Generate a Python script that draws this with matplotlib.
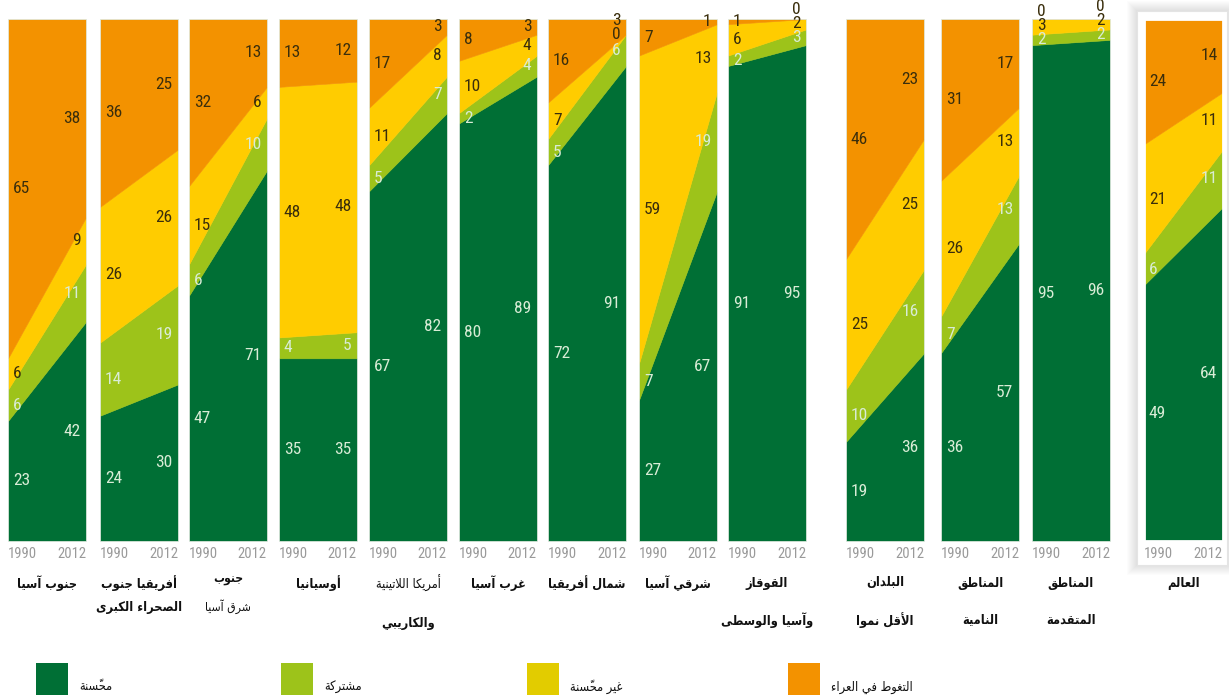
import matplotlib
matplotlib.use('Agg')
import matplotlib.pyplot as plt
from matplotlib import font_manager as fm
from matplotlib.patches import Rectangle

# ---------------- data ----------------
regions = [
    ('جنوب آسيا', None),
    ('أفريقيا جنوب', 'الصحراء الكبرى'),
    ('جنوب', 'شرق آسيا'),
    ('أوسيانيا', None),
    ('أمريكا اللاتينية', 'والكاريبي'),
    ('غرب آسيا', None),
    ('شمال أفريقيا', None),
    ('شرقي آسيا', None),
    ('القوقاز', 'وآسيا والوسطى'),
    ('البلدان', 'الأقل نموا'),
    ('المناطق', 'النامية'),
    ('المناطق', 'المتقدمة'),
    ('العالم', None),
]
years = [1990, 2012]
year_labels = ['1990', '2012']

improved_1990 = [23, 24, 47, 35, 67, 80, 72, 27, 91, 19, 36, 95, 49]
improved_2012 = [42, 30, 71, 35, 82, 89, 91, 67, 95, 36, 57, 96, 64]
shared_1990 = [6, 14, 6, 4, 5, 2, 5, 7, 2, 10, 7, 2, 6]
shared_2012 = [11, 19, 10, 5, 7, 4, 6, 19, 3, 16, 13, 2, 11]
unimproved_1990 = [6, 26, 15, 48, 11, 10, 7, 59, 6, 25, 26, 3, 21]
unimproved_2012 = [9, 26, 6, 48, 8, 4, 0, 13, 2, 25, 13, 2, 11]
open_1990 = [65, 36, 32, 13, 17, 8, 16, 7, 1, 46, 31, 0, 24]
open_2012 = [38, 25, 13, 12, 3, 3, 3, 1, 0, 23, 17, 0, 14]

legend_labels = ['محسّنة', 'مشتركة', 'غير محسّنة', 'التغوط في العراء']

# ---------------- styles ----------------
C_IMP = '#006f35'
C_SH = '#9dc31a'
C_UN = '#ffcc00'
C_OD = '#f39200'
LEG_COLORS = [C_IMP, C_SH, '#e2cc00', C_OD]
DARK_TXT = '#3a2e0c'
LIGHT_TXT = '#d9ecd6'

# ---------------- simple Arabic shaping ----------------
FORMS = {
    'ء': ('\uFE80', None, None, None),
    'آ': ('\uFE81', '\uFE82', None, None),
    'أ': ('\uFE83', '\uFE84', None, None),
    'إ': ('\uFE87', '\uFE88', None, None),
    'ا': ('\uFE8D', '\uFE8E', None, None),
    'ب': ('\uFE8F', '\uFE90', '\uFE91', '\uFE92'),
    'ة': ('\uFE93', '\uFE94', None, None),
    'ت': ('\uFE95', '\uFE96', '\uFE97', '\uFE98'),
    'ج': ('\uFE9D', '\uFE9E', '\uFE9F', '\uFEA0'),
    'ح': ('\uFEA1', '\uFEA2', '\uFEA3', '\uFEA4'),
    'د': ('\uFEA9', '\uFEAA', None, None),
    'ر': ('\uFEAD', '\uFEAE', None, None),
    'ز': ('\uFEAF', '\uFEB0', None, None),
    'س': ('\uFEB1', '\uFEB2', '\uFEB3', '\uFEB4'),
    'ش': ('\uFEB5', '\uFEB6', '\uFEB7', '\uFEB8'),
    'ص': ('\uFEB9', '\uFEBA', '\uFEBB', '\uFEBC'),
    'ط': ('\uFEC1', '\uFEC2', '\uFEC3', '\uFEC4'),
    'ع': ('\uFEC9', '\uFECA', '\uFECB', '\uFECC'),
    'غ': ('\uFECD', '\uFECE', '\uFECF', '\uFED0'),
    'ف': ('\uFED1', '\uFED2', '\uFED3', '\uFED4'),
    'ق': ('\uFED5', '\uFED6', '\uFED7', '\uFED8'),
    'ك': ('\uFED9', '\uFEDA', '\uFEDB', '\uFEDC'),
    'ل': ('\uFEDD', '\uFEDE', '\uFEDF', '\uFEE0'),
    'م': ('\uFEE1', '\uFEE2', '\uFEE3', '\uFEE4'),
    'ن': ('\uFEE5', '\uFEE6', '\uFEE7', '\uFEE8'),
    'ه': ('\uFEE9', '\uFEEA', '\uFEEB', '\uFEEC'),
    'و': ('\uFEED', '\uFEEE', None, None),
    'ى': ('\uFEEF', '\uFEF0', None, None),
    'ي': ('\uFEF1', '\uFEF2', '\uFEF3', '\uFEF4'),
    '\uFEFB': ('\uFEFB', '\uFEFC', None, None),
    '\uFEF7': ('\uFEF7', '\uFEF8', None, None),
    '\uFEF5': ('\uFEF5', '\uFEF6', None, None),
}


def _is_mark(c):
    return '\u064B' <= c <= '\u0652'


def _jt(c):
    if c is None or c not in FORMS:
        return None
    f = FORMS[c]
    if f[2]:
        return 'D'
    if f[1]:
        return 'R'
    return 'U'


def shape(s):
    s = s.replace('لا', '\uFEFB').replace('لأ', '\uFEF7').replace('لآ', '\uFEF5')
    ch = list(s)
    out = []
    for i, c in enumerate(ch):
        if _is_mark(c) or c not in FORMS:
            out.append(c)
            continue
        j = i - 1
        while j >= 0 and _is_mark(ch[j]):
            j -= 1
        prev = ch[j] if j >= 0 else None
        k = i + 1
        while k < len(ch) and _is_mark(ch[k]):
            k += 1
        nxt = ch[k] if k < len(ch) else None
        t = _jt(c)
        jp = _jt(prev) == 'D' and t in ('D', 'R')
        jn = t == 'D' and _jt(nxt) in ('D', 'R')
        f = FORMS[c]
        if jp and jn:
            g = f[3]
        elif jp:
            g = f[1]
        elif jn:
            g = f[2]
        else:
            g = f[0]
        out.append(g)
    clusters = []
    for c in out:
        if _is_mark(c) and clusters:
            clusters[-1] += c
        else:
            clusters.append(c)
    return ''.join(reversed(clusters))


# ---------------- fonts ----------------
names = {f.name for f in fm.fontManager.ttflist}
num_family, num_stretch = None, 'normal'
for cand in ['Roboto Condensed', 'Liberation Sans Narrow', 'DejaVu Sans Condensed', 'Open Sans Condensed']:
    if cand in names:
        num_family = cand
        break
if num_family is None:
    if any(f.name == 'DejaVu Sans' and f.stretch in ('condensed', 'semi-condensed') for f in fm.fontManager.ttflist):
        num_family, num_stretch = 'DejaVu Sans', 'condensed'
    elif 'Roboto' in names:
        num_family = 'Roboto'
    else:
        num_family = 'DejaVu Sans'
AR_FAMILY = ['DejaVu Sans']
AR_SIZE = 9.2

# ---------------- layout ----------------
W, H = 1229, 700
fig = plt.figure(figsize=(W / 100, H / 100), dpi=100)
fig.patch.set_facecolor('white')


def fx(x):
    return x / W


def fy(y):
    return 1 - y / H


panel_left = [8, 100, 189, 279, 369, 459, 548, 639, 728, 846, 941, 1032, 1144]
panel_w = [78] * 12 + [79]
TOP, BOT = 19, 541
SEP = 2.7  # minimum label separation in percent units

# world highlight frame with soft shadow
bx0, by0, bx1, by1 = 1137, 11, 1227, 565
for k in range(10, 0, -1):
    fig.patches.append(Rectangle((fx(bx0 - k), fy(by1 + k)), (bx1 - bx0 + 2 * k) / W,
                                 (by1 - by0 + 2 * k) / H, transform=fig.transFigure,
                                 facecolor='black', alpha=0.011, edgecolor='none', zorder=0))
fig.patches.append(Rectangle((fx(bx0), fy(by1)), (bx1 - bx0) / W, (by1 - by0) / H,
                             transform=fig.transFigure, facecolor='white',
                             edgecolor='#e4e4e4', linewidth=0.8, zorder=0.5))

series_1990 = [improved_1990, shared_1990, unimproved_1990, open_1990]
series_2012 = [improved_2012, shared_2012, unimproved_2012, open_2012]
colors = [C_IMP, C_SH, C_UN, C_OD]
txt_colors = [LIGHT_TXT, LIGHT_TXT, DARK_TXT, DARK_TXT]

for i in range(len(regions)):
    ax = fig.add_axes([fx(panel_left[i]), fy(BOT), panel_w[i] / W, (BOT - TOP) / H])
    ax.set_zorder(2)
    lower = [0, 0]
    last_y = [-100, -100]
    for s in range(4):
        vals = [series_1990[s][i], series_2012[s][i]]
        upper = [lower[0] + vals[0], lower[1] + vals[1]]
        ax.fill_between(years, lower, upper, color=colors[s], linewidth=0.4,
                        edgecolor=colors[s])
        for j in range(2):
            mid = max(lower[j] + vals[j] / 2, last_y[j] + SEP)
            last_y[j] = mid
            ax.annotate(str(vals[j]), xy=(years[j], mid),
                        xytext=(3.5 if j == 0 else -4, 0), textcoords='offset points',
                        ha='left' if j == 0 else 'right', va='center',
                        fontsize=12.5, color=txt_colors[s], family=num_family,
                        fontstretch=num_stretch, annotation_clip=False)
        lower = upper
    ax.set_xlim(years[0], years[1])
    ax.set_ylim(0, 100)
    ax.set_yticks([])
    ax.set_xticks(years)
    ax.set_xticklabels(year_labels, family=num_family, fontstretch=num_stretch,
                       fontsize=10.5, color='#9a9a9a')
    tl = ax.get_xticklabels()
    tl[0].set_ha('left')
    tl[1].set_ha('right')
    ax.tick_params(axis='x', length=0, pad=4)
    for sp in ax.spines.values():
        if i == 12:
            sp.set_color('white')
            sp.set_linewidth(2)
        else:
            sp.set_color('#e3ece3')
            sp.set_linewidth(0.6)

    # region labels
    cx = fx(panel_left[i] + panel_w[i] / 2)
    l1, l2 = regions[i]
    w1 = 'normal' if i == 4 else 'bold'
    y1 = 580 if i == 2 else 583
    fig.text(cx, fy(y1), shape(l1), ha='center', va='center', family=AR_FAMILY,
             fontsize=AR_SIZE - (0.5 if i == 2 else 0), fontweight=w1, color='#111111',
             fontstretch='condensed')
    if l2:
        w2 = 'normal' if i == 2 else 'bold'
        if i in (1, 2):
            y2 = 607
        elif i == 4:
            y2 = 623
        else:
            y2 = 620
        fig.text(cx, fy(y2), shape(l2), ha='center', va='center', family=AR_FAMILY,
                 fontsize=AR_SIZE - (0.5 if i == 2 else 0), fontweight=w2, color='#111111',
                 fontstretch='condensed')

# legend
leg_x = [36, 281, 527, 788]
for k in range(4):
    fig.patches.append(Rectangle((fx(leg_x[k]), fy(695)), 32 / W, 32 / H,
                                 transform=fig.transFigure, facecolor=LEG_COLORS[k],
                                 edgecolor='none'))
    fig.text(fx(leg_x[k] + 43), fy(687), shape(legend_labels[k]), ha='left', va='center',
             family=AR_FAMILY, fontsize=9.2, color='#111111', fontstretch='condensed')

fig.savefig('out.png', dpi=100, facecolor='white')
